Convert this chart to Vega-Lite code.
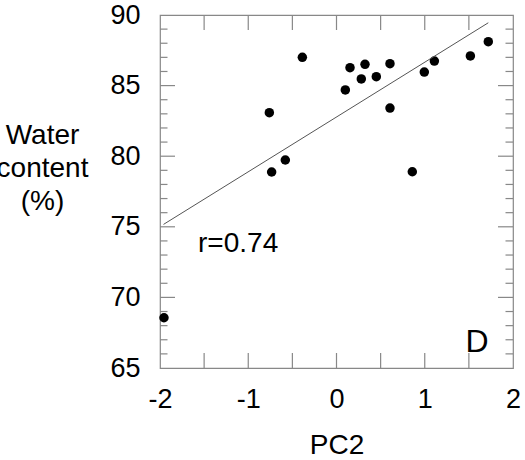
{
  "$schema": "https://vega.github.io/schema/vega-lite/v6.json",
  "width": 353,
  "height": 353,
  "autosize": "none",
  "padding": {"left": 160, "top": 15, "right": 12, "bottom": 92},
  "config": {
    "font": "Liberation Sans",
    "view": {"stroke": "#888888", "strokeWidth": 1.2},
    "axis": {
      "domain": false,
      "grid": false,
      "ticks": false,
      "tickSize": 0,
      "labelFont": "Liberation Sans",
      "labelFontSize": 27,
      "labelColor": "#000000",
      "titleFont": "Liberation Sans",
      "titleFontSize": 28,
      "titleFontWeight": "normal",
      "titleColor": "#000000"
    }
  },
  "datasets": {
    "points": [
      {"PC2": -0.387, "water": 87.0},
      {"PC2": -0.761, "water": 83.08},
      {"PC2": -0.735, "water": 78.88},
      {"PC2": -0.58, "water": 79.73},
      {"PC2": 0.10, "water": 84.69},
      {"PC2": 0.153, "water": 86.27},
      {"PC2": 0.323, "water": 86.51},
      {"PC2": 0.281, "water": 85.47},
      {"PC2": 0.451, "water": 85.63},
      {"PC2": 0.606, "water": 86.55},
      {"PC2": 0.606, "water": 83.41},
      {"PC2": 0.859, "water": 78.9},
      {"PC2": 0.995, "water": 85.96},
      {"PC2": 1.109, "water": 86.74},
      {"PC2": 1.517, "water": 87.1},
      {"PC2": 1.72, "water": 88.11},
      {"PC2": -1.955, "water": 68.56}
    ],
    "fit": [
      {"PC2": -1.96, "water": 75.17},
      {"PC2": 1.72, "water": 89.45}
    ],
    "notes": [
      {"PC2": -1.569, "water": 73.24, "label": "r=0.74", "fs": "small"},
      {"PC2": 1.462, "water": 66.13, "label": "D", "fs": "big"}
    ],
    "xticks": [{"v": -1.5}, {"v": -1}, {"v": -0.5}, {"v": 0}, {"v": 0.5}, {"v": 1}, {"v": 1.5}],
    "ymajor": [{"v": 70}, {"v": 75}, {"v": 80}, {"v": 85}],
    "yminor": [{"v": 66}, {"v": 67}, {"v": 68}, {"v": 69}, {"v": 71}, {"v": 72}, {"v": 73}, {"v": 74}, {"v": 76}, {"v": 77}, {"v": 78}, {"v": 79}, {"v": 81}, {"v": 82}, {"v": 83}, {"v": 84}, {"v": 86}, {"v": 87}, {"v": 88}, {"v": 89}]
  },
  "layer": [
    {
      "data": {"name": "points"},
      "mark": {"type": "circle", "size": 90, "color": "#000000", "opacity": 1},
      "encoding": {
        "x": {
          "field": "PC2", "type": "quantitative",
          "scale": {"domain": [-2, 2], "nice": false, "zero": false},
          "axis": {
            "orient": "bottom",
            "values": [-2, -1, 0, 1, 2],
            "labelExpr": "'' + datum.value",
            "labelPadding": 18,
            "labelFlush": false,
            "labelOverlap": false,
            "title": "PC2",
            "titleBaseline": "alphabetic",
            "titleY": 85
          }
        },
        "y": {
          "field": "water", "type": "quantitative",
          "scale": {"domain": [65, 90], "nice": false, "zero": false},
          "axis": {
            "orient": "left",
            "values": [65, 70, 75, 80, 85, 90],
            "labelPadding": 20,
            "labelFlush": false,
            "labelOverlap": false,
            "title": ["Water", "content", "(%)"],
            "titleAngle": 0,
            "titleAlign": "center",
            "titleBaseline": "alphabetic",
            "titleLineHeight": 33,
            "titleX": -118,
            "titleY": 128
          }
        }
      }
    },
    {
      "data": {"name": "fit"},
      "mark": {"type": "line", "color": "#555555", "strokeWidth": 1},
      "encoding": {
        "x": {"field": "PC2", "type": "quantitative"},
        "y": {"field": "water", "type": "quantitative"}
      }
    },
    {
      "data": {"name": "notes"},
      "mark": {"type": "text", "align": "left", "baseline": "alphabetic", "font": "Liberation Sans", "color": "#000000"},
      "encoding": {
        "x": {"field": "PC2", "type": "quantitative"},
        "y": {"field": "water", "type": "quantitative"},
        "text": {"field": "label"},
        "size": {"field": "fs", "type": "nominal", "scale": {"domain": ["small", "big"], "range": [28, 32]}, "legend": null}
      }
    },
    {
      "data": {"name": "xticks"},
      "mark": {"type": "tick", "orient": "vertical", "size": 30, "thickness": 1.2, "color": "#888888", "opacity": 1, "clip": true},
      "encoding": {
        "x": {"field": "v", "type": "quantitative"},
        "y": {"datum": 90, "type": "quantitative"}
      }
    },
    {
      "data": {"name": "xticks"},
      "mark": {"type": "tick", "orient": "vertical", "size": 30, "thickness": 1.2, "color": "#888888", "opacity": 1, "clip": true},
      "encoding": {
        "x": {"field": "v", "type": "quantitative"},
        "y": {"datum": 65, "type": "quantitative"}
      }
    },
    {
      "data": {"name": "ymajor"},
      "mark": {"type": "tick", "orient": "horizontal", "size": 30, "thickness": 1.2, "color": "#888888", "opacity": 1, "clip": true},
      "encoding": {
        "y": {"field": "v", "type": "quantitative"},
        "x": {"datum": -2, "type": "quantitative"}
      }
    },
    {
      "data": {"name": "ymajor"},
      "mark": {"type": "tick", "orient": "horizontal", "size": 30, "thickness": 1.2, "color": "#888888", "opacity": 1, "clip": true},
      "encoding": {
        "y": {"field": "v", "type": "quantitative"},
        "x": {"datum": 2, "type": "quantitative"}
      }
    },
    {
      "data": {"name": "yminor"},
      "mark": {"type": "tick", "orient": "horizontal", "size": 15, "thickness": 1.2, "color": "#888888", "opacity": 1, "clip": true},
      "encoding": {
        "y": {"field": "v", "type": "quantitative"},
        "x": {"datum": -2, "type": "quantitative"}
      }
    },
    {
      "data": {"name": "yminor"},
      "mark": {"type": "tick", "orient": "horizontal", "size": 15, "thickness": 1.2, "color": "#888888", "opacity": 1, "clip": true},
      "encoding": {
        "y": {"field": "v", "type": "quantitative"},
        "x": {"datum": 2, "type": "quantitative"}
      }
    }
  ]
}
